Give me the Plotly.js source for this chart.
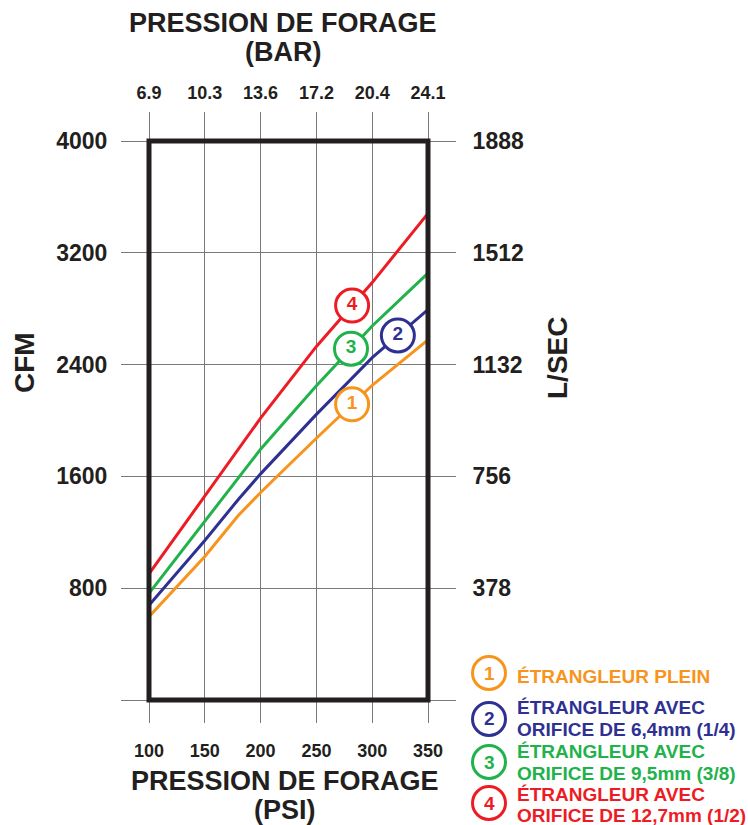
<!DOCTYPE html>
<html>
<head>
<meta charset="utf-8">
<script src="https://cdn.plot.ly/plotly-3.0.1.min.js"></script>
<style>html,body{margin:0;padding:0;background:#fff;}#chart{width:748px;height:825px;}</style>
</head>
<body>
<div id="chart"></div>
<script>
// ---- data ----
const psi = [100, 150, 180, 200, 250, 300, 350];
const cfm1 = [596, 1027, 1320, 1485, 1873, 2252, 2577];   // étrangleur plein
const cfm2 = [678, 1141, 1435, 1618, 2044, 2450, 2794];   // orifice 6,4mm
const cfm3 = [763, 1275, 1590, 1795, 2249, 2676, 3054];   // orifice 9,5mm
const cfm4 = [902, 1462, 1800, 2017, 2530, 2987, 3482];   // orifice 12,7mm
const psiTicks = [100, 150, 200, 250, 300, 350];
const barTicks = ['6.9', '10.3', '13.6', '17.2', '20.4', '24.1'];
const cfmTicks = [0, 800, 1600, 2400, 3200, 4000];
const cfmLabels = ['', '800', '1600', '2400', '3200', '4000'];
const lsecLabels = ['', '378', '756', '1132', '1512', '1888'];
const seriesNums = ['1', '2', '3', '4'];
const legendLines = [
  ['ÉTRANGLEUR PLEIN'],
  ['ÉTRANGLEUR AVEC', 'ORIFICE DE 6,4mm (1/4)'],
  ['ÉTRANGLEUR AVEC', 'ORIFICE DE 9,5mm (3/8)'],
  ['ÉTRANGLEUR AVEC', 'ORIFICE DE 12,7mm (1/2)']
];
const labelPsi = [282, 323, 281, 282];

// ---- style ----
const colors = ['#f7941d', '#2e3192', '#21b24b', '#ed1c24'];
const series = [cfm1, cfm2, cfm3, cfm4];
const FONT = 'Liberation Sans, Arial, Helvetica, sans-serif';
const INK = '#231f20';
const L = 149, R = 428, T = 141, B = 700;
const px = p => (p - L) / (R - L);
const py = p => (B - p) / (B - T);

function interp(xs, ys, x) {
  for (let i = 0; i < xs.length - 1; i++) {
    if (x >= xs[i] && x <= xs[i + 1]) {
      const t = (x - xs[i]) / (xs[i + 1] - xs[i]);
      return ys[i] + t * (ys[i + 1] - ys[i]);
    }
  }
  return ys[ys.length - 1];
}

const traces = [];
series.forEach((s, i) => {
  traces.push({
    x: psi, y: s, type: 'scatter', mode: 'lines',
    line: {color: colors[i], width: 3}, hoverinfo: 'skip', showlegend: false
  });
});
series.forEach((s, i) => {
  traces.push({
    x: [labelPsi[i]], y: [interp(psi, s, labelPsi[i])], type: 'scatter',
    mode: 'markers+text', text: [seriesNums[i]], textposition: 'middle center',
    textfont: {family: FONT, size: 19, color: colors[i], weight: 'bold'},
    marker: {size: 33, color: '#ffffff', line: {color: colors[i], width: 3}},
    cliponaxis: false, hoverinfo: 'skip', showlegend: false
  });
});
// invisible trace to anchor secondary axes
traces.push({x: psi, y: cfm1, xaxis: 'x2', yaxis: 'y2', type: 'scatter', mode: 'lines',
  line: {color: 'rgba(0,0,0,0)', width: 0}, hoverinfo: 'skip', showlegend: false});

const tickFontSmall = {family: FONT, size: 18, color: INK, weight: 'bold'};
const tickFontBig = {family: FONT, size: 23, color: INK, weight: 'bold'};
const gridC = '#7a7a7a';

const annotations = [];
function addText(text, x, y, size, color, opts) {
  annotations.push(Object.assign({
    text: text, x: x, y: y, xref: 'paper', yref: 'paper', showarrow: false,
    xanchor: 'center', yanchor: 'middle',
    font: {family: FONT, size: size, color: color, weight: 'bold'}
  }, opts || {}));
}
addText('PRESSION DE FORAGE', px(283), py(23), 27, INK);
addText('(BAR)', px(283), py(52), 27, INK);
addText('PRESSION DE FORAGE', px(285), py(781), 27, INK);
addText('(PSI)', px(285), py(810), 27, INK);
addText('CFM', px(24), py(363), 28, INK, {textangle: -90});
addText('L/SEC', px(557), py(358), 28, INK, {textangle: -90});

const shapes = [{
  type: 'rect', xref: 'paper', yref: 'paper', x0: 0, x1: 1, y0: 0, y1: 1,
  line: {color: INK, width: 5}, fillcolor: 'rgba(0,0,0,0)', layer: 'above'
}];

const legendCircleY = [673, 719, 762, 803];
const legendLineY = [[676], [707, 729], [751.5, 773.5], [794, 815]];
legendLines.forEach((lines, i) => {
  shapes.push({
    type: 'circle', xref: 'paper', yref: 'paper', xsizemode: 'pixel', ysizemode: 'pixel',
    xanchor: px(489), yanchor: py(legendCircleY[i]), x0: -16.5, x1: 16.5, y0: -16.5, y1: 16.5,
    line: {color: colors[i], width: 3}, fillcolor: '#ffffff'
  });
  addText(seriesNums[i], px(489), py(legendCircleY[i]), 19, colors[i]);
  lines.forEach((t, j) => {
    addText(t, px(515), py(legendLineY[i][j]), 19, colors[i], {xanchor: 'left'});
  });
});

const layout = {
  width: 748, height: 825,
  margin: {l: L, r: 748 - R, t: T, b: 825 - B, pad: 0},
  paper_bgcolor: '#ffffff', plot_bgcolor: '#ffffff',
  showlegend: false,
  xaxis: {
    range: [100, 350], tickvals: psiTicks, ticktext: psiTicks.map(String),
    showgrid: true, gridcolor: gridC, gridwidth: 1, zeroline: false, showline: false,
    ticks: 'outside', ticklen: 22, tickcolor: gridC, tickwidth: 1,
    ticklabelstandoff: 12, tickfont: tickFontSmall, fixedrange: true
  },
  xaxis2: {
    overlaying: 'x', side: 'top', range: [100, 350], tickvals: psiTicks, ticktext: barTicks,
    showgrid: false, zeroline: false, showline: false,
    ticks: 'outside', ticklen: 28, tickcolor: gridC, tickwidth: 1,
    ticklabelstandoff: 6, tickfont: tickFontSmall, fixedrange: true
  },
  yaxis: {
    range: [0, 4000], tickvals: cfmTicks, ticktext: cfmLabels,
    showgrid: true, gridcolor: gridC, gridwidth: 1, zeroline: false, showline: false,
    ticks: 'outside', ticklen: 27, tickcolor: gridC, tickwidth: 1,
    ticklabelstandoff: 9, tickfont: tickFontBig, fixedrange: true
  },
  yaxis2: {
    overlaying: 'y', side: 'right', range: [0, 4000], tickvals: cfmTicks, ticktext: lsecLabels,
    showgrid: false, zeroline: false, showline: false,
    ticks: 'outside', ticklen: 27, tickcolor: gridC, tickwidth: 1,
    ticklabelstandoff: 12, tickfont: tickFontBig, fixedrange: true
  },
  annotations: annotations,
  shapes: shapes
};

Plotly.newPlot('chart', traces, layout, {displayModeBar: false, staticPlot: true});
</script>
</body>
</html>
